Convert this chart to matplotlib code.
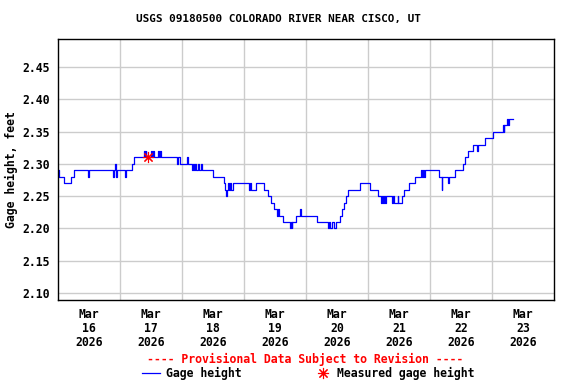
import matplotlib
matplotlib.use("Agg")
import matplotlib.pyplot as plt
from matplotlib.lines import Line2D

# ---- data (hours since Mar 16 2026 00:00, gage height in feet; step changes) ----
hours = [0.0, 0.3, 2.5, 5.0, 6.0, 11.6, 12.0, 21.3, 21.6, 22.0, 22.3, 22.6, 22.9,
         25.9, 26.2, 28.6, 29.6, 33.3, 33.6, 33.9, 34.2, 36.0, 36.3, 36.8, 37.1,
         38.7, 39.0, 39.5, 39.8, 46.1, 46.4, 47.2,
         49.9, 50.2, 51.9, 52.3, 52.6, 53.2, 53.6, 54.2, 54.6, 55.2, 55.6, 60.0,
         64.3, 64.7, 65.0, 65.4, 65.8, 66.2, 66.6, 67.0, 67.6,
         73.9, 74.2, 74.6, 76.6, 79.7, 81.3, 82.5, 83.6, 84.8, 85.2, 85.5, 87.1,
         89.8, 90.2, 90.4, 90.6, 92.1, 93.7, 94.1,
         100.3, 104.5, 104.9, 105.2, 106.2, 106.8, 107.8, 109.2, 109.9, 110.7,
         111.5, 112.3, 116.9, 120.8,
         123.9, 125.0, 125.4, 125.8, 126.2, 126.7, 127.1, 129.3, 129.7, 130.0,
         131.5, 131.8, 133.2, 133.9, 135.9, 138.2, 140.5, 140.9, 141.3, 141.7, 142.2,
         147.5, 148.5, 148.8, 151.0, 151.3, 153.7, 156.8, 157.5, 158.7, 160.6,
         162.2, 162.5, 165.3, 168.4, 172.3, 172.5, 172.8, 173.8, 174.2, 174.5, 176.1]
gage = [2.29, 2.28, 2.27, 2.28, 2.29, 2.28, 2.29, 2.28, 2.29, 2.30, 2.29, 2.28, 2.29,
        2.28, 2.29, 2.30, 2.31, 2.32, 2.31, 2.32, 2.31, 2.32, 2.31, 2.32, 2.31,
        2.32, 2.31, 2.32, 2.31, 2.30, 2.31, 2.30,
        2.31, 2.30, 2.29, 2.30, 2.29, 2.30, 2.29, 2.30, 2.29, 2.30, 2.29, 2.28,
        2.27, 2.26, 2.25, 2.26, 2.27, 2.26, 2.27, 2.26, 2.27,
        2.26, 2.27, 2.26, 2.27, 2.26, 2.25, 2.24, 2.23, 2.22, 2.23, 2.22, 2.21,
        2.20, 2.21, 2.20, 2.21, 2.22, 2.23, 2.22,
        2.21, 2.20, 2.21, 2.20, 2.21, 2.20, 2.21, 2.22, 2.23, 2.24,
        2.25, 2.26, 2.27, 2.26,
        2.25, 2.24, 2.25, 2.24, 2.25, 2.24, 2.25, 2.24, 2.25, 2.24,
        2.25, 2.24, 2.25, 2.26, 2.27, 2.28, 2.29, 2.28, 2.29, 2.28, 2.29,
        2.28, 2.26, 2.28, 2.27, 2.28, 2.29, 2.30, 2.31, 2.32, 2.33,
        2.32, 2.33, 2.34, 2.35, 2.36, 2.35, 2.36, 2.37, 2.36, 2.37, 2.37]

measured_hours = [34.8]
measured_gage = [2.31]

day_labels = ["Mar\n16\n2026", "Mar\n17\n2026", "Mar\n18\n2026", "Mar\n19\n2026",
              "Mar\n20\n2026", "Mar\n21\n2026", "Mar\n22\n2026", "Mar\n23\n2026"]
y_ticks = [2.10, 2.15, 2.20, 2.25, 2.30, 2.35, 2.40, 2.45]

FONT = "DejaVu Sans Mono"

fig = plt.figure(figsize=(5.76, 3.84), dpi=100)
ax = fig.add_axes([58/576, 84/384, 496/576, 261/384])

ax.plot(hours, gage, drawstyle="steps-post", color="#0000ff", lw=0.9)
ax.plot(measured_hours, measured_gage, linestyle="none", marker=(8, 2, 0),
        markersize=8, color="red", markeredgewidth=0.8)

ax.set_xlim(0, 192)
ax.set_ylim(2.0892, 2.4934)

ax.set_xticks([24 * i for i in range(1, 8)])
ax.set_xticklabels([])
ax.set_xticks([12 + 24 * i for i in range(8)], minor=True)
ax.set_xticklabels(day_labels, minor=True, fontfamily=FONT, fontweight="bold",
                   fontsize=8.3, linespacing=1.1)
ax.tick_params(axis="x", which="both", length=0, pad=6)

ax.set_yticks(y_ticks)
ax.set_yticklabels([f"{v:.2f}" for v in y_ticks], fontfamily=FONT,
                   fontweight="bold", fontsize=8.3)
ax.tick_params(axis="y", length=0, pad=6)

ax.grid(True, which="major", color="#cccccc", lw=1.0)
ax.set_axisbelow(True)
for s in ax.spines.values():
    s.set_color("black")
    s.set_linewidth(1.0)

ax.set_ylabel("Gage height, feet", fontfamily=FONT, fontweight="bold",
              fontsize=8.3, labelpad=3)

fig.text(278/576, 1 - 19/384, "USGS 09180500 COLORADO RIVER NEAR CISCO, UT",
         ha="center", va="center", fontfamily=FONT, fontweight="bold", fontsize=7.9)
fig.text(305/576, 1 - 359/384, "---- Provisional Data Subject to Revision ----",
         ha="center", va="center", fontfamily=FONT, fontweight="bold",
         fontsize=8.3, color="red")

# legend entries
fig.add_artist(Line2D([142/576, 160/576], [1 - 373/384, 1 - 373/384],
                      color="#0000ff", lw=0.9))
fig.text(166/576, 1 - 373/384, "Gage height", ha="left", va="center",
         fontfamily=FONT, fontweight="bold", fontsize=8.3)
fig.add_artist(Line2D([323/576], [1 - 373/384], marker=(8, 2, 0), markersize=8,
                      color="red", markeredgewidth=0.8, linestyle="none"))
fig.text(337/576, 1 - 373/384, "Measured gage height", ha="left", va="center",
         fontfamily=FONT, fontweight="bold", fontsize=8.3)

fig.savefig("out.png", dpi=100)
